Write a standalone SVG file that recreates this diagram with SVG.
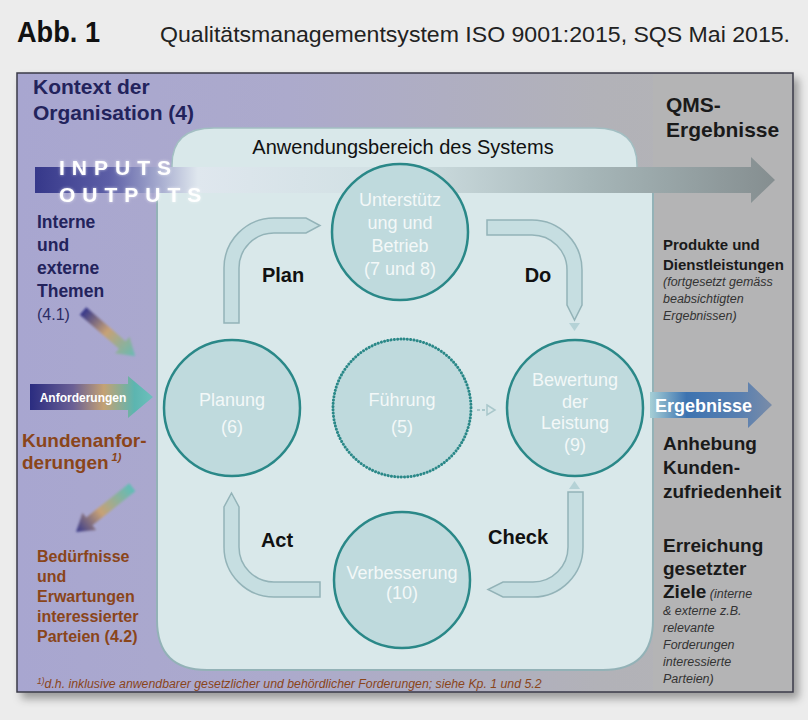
<svg xmlns="http://www.w3.org/2000/svg" width="808" height="720" viewBox="0 0 808 720">
<defs>
<style>
.sans{font-family:"Liberation Sans",Arial,sans-serif}
.circ{fill:#bfdadd;stroke:#2a8888;stroke-width:2.5}
.ctext{font-family:"Liberation Sans",Arial,sans-serif;font-size:18px;fill:#f3f8f8;text-anchor:middle}
.block{fill:#c6dee1;stroke:#93b3b8;stroke-width:1.5}
.pdca{font-family:"Liberation Sans",Arial,sans-serif;font-size:20px;font-weight:bold;fill:#111;text-anchor:middle}
.navy{font-family:"Liberation Sans",Arial,sans-serif;font-weight:bold;fill:#23235c}
.brown{font-family:"Liberation Sans",Arial,sans-serif;font-weight:bold;fill:#8a451a}
.dark{font-family:"Liberation Sans",Arial,sans-serif;font-weight:bold;fill:#1a1a1a}
.ital{font-family:"Liberation Sans",Arial,sans-serif;font-style:italic;font-weight:normal;fill:#333;font-size:12.5px}
</style>
<linearGradient id="bg" x1="17" y1="0" x2="793" y2="0" gradientUnits="userSpaceOnUse">
<stop offset="0" stop-color="#a8a6d0"/>
<stop offset="0.35" stop-color="#acaacc"/>
<stop offset="0.75" stop-color="#b2b2b8"/>
<stop offset="1" stop-color="#b4b4b5"/>
</linearGradient>
<linearGradient id="band" x1="35" y1="0" x2="775" y2="0" gradientUnits="userSpaceOnUse">
<stop offset="0" stop-color="#36388a"/>
<stop offset="0.1" stop-color="#5c5ea6"/>
<stop offset="0.22" stop-color="#dfe7ee"/>
<stop offset="0.5" stop-color="#cfdfe2"/>
<stop offset="0.75" stop-color="#a6b6b8"/>
<stop offset="1" stop-color="#858e90"/>
</linearGradient>
<linearGradient id="anf" x1="30" y1="0" x2="153" y2="0" gradientUnits="userSpaceOnUse">
<stop offset="0" stop-color="#2a2c80"/>
<stop offset="0.35" stop-color="#6a5f95"/>
<stop offset="0.6" stop-color="#c4a274"/>
<stop offset="0.85" stop-color="#5cb5b0"/>
<stop offset="1" stop-color="#6cc0bc"/>
</linearGradient>
<linearGradient id="diag" x1="0" y1="0" x2="70" y2="0" gradientUnits="userSpaceOnUse">
<stop offset="0" stop-color="#34368a"/>
<stop offset="0.45" stop-color="#c7a176"/>
<stop offset="1" stop-color="#63bcb6"/>
</linearGradient>
<linearGradient id="erg" x1="650" y1="0" x2="772" y2="0" gradientUnits="userSpaceOnUse">
<stop offset="0" stop-color="#a6cfd6"/>
<stop offset="0.3" stop-color="#3d73b0"/>
<stop offset="0.75" stop-color="#5a80b0"/>
<stop offset="1" stop-color="#7a8ca8"/>
</linearGradient>
<filter id="shadow" x="-5%" y="-5%" width="115%" height="115%">
<feDropShadow dx="5" dy="6" stdDeviation="4" flood-color="#000" flood-opacity="0.35"/>
</filter>
<filter id="soft" x="-20%" y="-20%" width="140%" height="140%">
<feGaussianBlur stdDeviation="1.2"/>
</filter>
<filter id="glow" x="-10%" y="-30%" width="120%" height="160%">
<feGaussianBlur in="SourceAlpha" stdDeviation="1.5" result="b"/>
<feFlood flood-color="#ffffff" flood-opacity="0.6"/>
<feComposite in2="b" operator="in" result="g"/>
<feMerge><feMergeNode in="g"/><feMergeNode in="SourceGraphic"/></feMerge>
</filter>
</defs>

<rect x="0" y="0" width="808" height="720" fill="#ececec"/>

<g id="header">
<text x="17" y="42" class="sans" font-size="29" font-weight="bold" fill="#111" textLength="83" lengthAdjust="spacingAndGlyphs">Abb. 1</text>
<text x="160" y="42" class="sans" font-size="22.5" fill="#222" textLength="630" lengthAdjust="spacingAndGlyphs">Qualitätsmanagementsystem ISO 9001:2015, SQS Mai 2015.</text>
</g>

<g id="frame">
<rect x="17" y="73" width="776" height="619" fill="url(#bg)" stroke="#3a3a48" stroke-width="1.5" filter="url(#shadow)"/>
<rect x="653" y="74" width="139" height="617" fill="#b4b4b5"/>
</g>

<g id="scope">
<path d="M172,193 L172,165 Q172,128 214,128 L595,128 Q637,128 637,165 L637,193 Z" fill="#d9e8ea" stroke="#a2bec2" stroke-width="1.5"/>
<path d="M157,185 L653,185 L653,620 Q653,670 603,670 L207,670 Q157,670 157,620 Z" fill="#d9e8ea" stroke="#93b2b7" stroke-width="2"/>
<text x="403" y="154" class="sans" font-size="20" fill="#111" text-anchor="middle">Anwendungsbereich des Systems</text>
</g>

<g id="connectors">
<path d="M35,167 L751,167 L751,157 L775,180 L751,203 L751,193 L35,193 Z" fill="url(#band)"/>
<path d="M30,384 L128,384 L128,376 L153,397 L128,418 L128,410 L30,410 Z" fill="url(#anf)"/>
<g transform="translate(83,311) rotate(40.9)" filter="url(#soft)">
<path d="M0,-5 L52,-5 L52,-11 L69,0 L52,11 L52,5 L0,5 Z" fill="url(#diag)"/>
</g>
<g transform="translate(76,532) rotate(-38.5)" filter="url(#soft)">
<path d="M0,0 L17,-11 L17,-5 L72,-5 L72,5 L17,5 L17,11 Z" fill="url(#diag)"/>
</g>
<path d="M650,392 L748,392 L748,382 L772,405 L748,428 L748,418 L650,418 Z" fill="url(#erg)"/>
<path class="block" d="M224,323 L224,268 A50,50 0 0 1 274,218 L306,218 L320,225.5 L306,233 L274,233 A35,35 0 0 0 239,268 L239,323 Z"/>
<path class="block" d="M487,220 L532,220 A50,50 0 0 1 582,270 L582,305 L574.5,320 L567,305 L567,270 A35,35 0 0 0 532,235 L487,235 Z"/>
<path class="block" d="M568,492 L583,492 L583,547 A50,50 0 0 1 533,597 L503,597 L488,589.5 L503,582 L533,582 A35,35 0 0 0 568,547 Z"/>
<path class="block" d="M231.5,493 L239,507 L239,547 A35,35 0 0 0 274,582 L320,582 L320,597 L274,597 A50,50 0 0 1 224,547 L224,507 Z"/>
<path d="M569,323 L580,323 L574.5,331 Z" fill="#b5d2d6"/>
<path d="M569,489 L580,489 L574.5,481 Z" fill="#b5d2d6"/>
<line x1="477" y1="410" x2="487" y2="410" stroke="#a9c7cb" stroke-width="2" stroke-dasharray="3 2"/>
<path d="M487,405 L495,410 L487,415 Z" fill="none" stroke="#a9c7cb" stroke-width="1.5"/>
</g>

<g id="io-labels" filter="url(#glow)">
<text x="59" y="175" class="sans" font-size="21" font-weight="bold" fill="#ffffff" letter-spacing="7">INPUTS</text>
<text x="59" y="202" class="sans" font-size="21" font-weight="bold" fill="#ffffff" letter-spacing="7">OUTPUTS</text>
</g>

<g id="node-unterstuetzung">
<circle class="circ" cx="400" cy="232" r="68"/>
<text class="ctext" x="400" y="206">Unterstütz</text>
<text class="ctext" x="400" y="229">ung und</text>
<text class="ctext" x="400" y="252">Betrieb</text>
<text class="ctext" x="400" y="275">(7 und 8)</text>
</g>
<g id="node-planung">
<circle class="circ" cx="232" cy="408" r="68"/>
<text class="ctext" x="232" y="406">Planung</text>
<text class="ctext" x="232" y="433">(6)</text>
</g>
<g id="node-fuehrung">
<circle cx="402" cy="408" r="69" fill="#bfdadd" stroke="#2a8888" stroke-width="3" stroke-dasharray="0.1 3.2" stroke-linecap="round"/>
<text class="ctext" x="402" y="406">Führung</text>
<text class="ctext" x="402" y="433">(5)</text>
</g>
<g id="node-bewertung">
<circle class="circ" cx="575" cy="408" r="68"/>
<text class="ctext" x="575" y="386">Bewertung</text>
<text class="ctext" x="575" y="408">der</text>
<text class="ctext" x="575" y="429">Leistung</text>
<text class="ctext" x="575" y="451">(9)</text>
</g>
<g id="node-verbesserung">
<circle class="circ" cx="402" cy="580" r="68"/>
<text class="ctext" x="402" y="579" font-size="14.5">Verbesserung</text>
<text class="ctext" x="402" y="599" font-size="14.5">(10)</text>
</g>

<g id="pdca-labels">
<text class="pdca" x="283" y="282">Plan</text>
<text class="pdca" x="538" y="282">Do</text>
<text class="pdca" x="277" y="547">Act</text>
<text class="pdca" x="518" y="544">Check</text>
</g>

<g id="left-column">
<text class="navy" x="33" y="94" font-size="21">Kontext der</text>
<text class="navy" x="33" y="120" font-size="21">Organisation (4)</text>
<text class="navy" x="37" y="228" font-size="17.5">Interne</text>
<text class="navy" x="37" y="251" font-size="17.5">und</text>
<text class="navy" x="37" y="274" font-size="17.5">externe</text>
<text class="navy" x="37" y="297" font-size="17.5">Themen</text>
<text class="sans" x="37" y="320" font-size="16" fill="#2c2c64">(4.1)</text>
<text class="sans" x="83" y="402" font-size="12" font-weight="bold" fill="#ffffff" text-anchor="middle">Anforderungen</text>
<text class="brown" x="22" y="447" font-size="19">Kundenanfor-</text>
<text class="brown" x="22" y="469" font-size="19">derungen<tspan font-size="11" font-style="italic" dy="-8" dx="3">1)</tspan></text>
<text class="brown" x="37" y="562" font-size="16">Bedürfnisse</text>
<text class="brown" x="37" y="582" font-size="16">und</text>
<text class="brown" x="37" y="602" font-size="16">Erwartungen</text>
<text class="brown" x="37" y="622" font-size="16">interessierter</text>
<text class="brown" x="37" y="642" font-size="16">Parteien (4.2)</text>
<text class="sans" x="37" y="688" font-size="12.3" font-style="italic" fill="#8a451a"><tspan font-size="8.5" dy="-4">1)</tspan><tspan dy="4">d.h. inklusive anwendbarer gesetzlicher und behördlicher Forderungen; siehe Kp. 1 und 5.2</tspan></text>
</g>

<g id="right-column">
<text class="dark" x="666" y="112" font-size="21">QMS-</text>
<text class="dark" x="666" y="137" font-size="21">Ergebnisse</text>
<text class="dark" x="663" y="250" font-size="15" fill="#222">Produkte und</text>
<text class="dark" x="663" y="270" font-size="15" fill="#222">Dienstleistungen</text>
<text class="ital" x="663" y="286">(fortgesetzt gemäss</text>
<text class="ital" x="663" y="303">beabsichtigten</text>
<text class="ital" x="663" y="320">Ergebnissen)</text>
<text class="sans" x="655" y="412" font-size="18" font-weight="bold" fill="#ffffff">Ergebnisse</text>
<text class="dark" x="663" y="450" font-size="19">Anhebung</text>
<text class="dark" x="663" y="474" font-size="19">Kunden-</text>
<text class="dark" x="663" y="498" font-size="19">zufriedenheit</text>
<text class="dark" x="663" y="552" font-size="19">Erreichung</text>
<text class="dark" x="663" y="575" font-size="19">gesetzter</text>
<text class="dark" x="663" y="598" font-size="19">Ziele<tspan class="ital"> (interne</tspan></text>
<text class="ital" x="663" y="615">&amp; externe z.B.</text>
<text class="ital" x="663" y="632">relevante</text>
<text class="ital" x="663" y="649">Forderungen</text>
<text class="ital" x="663" y="666">interessierte</text>
<text class="ital" x="663" y="683">Parteien)</text>
</g>
</svg>
